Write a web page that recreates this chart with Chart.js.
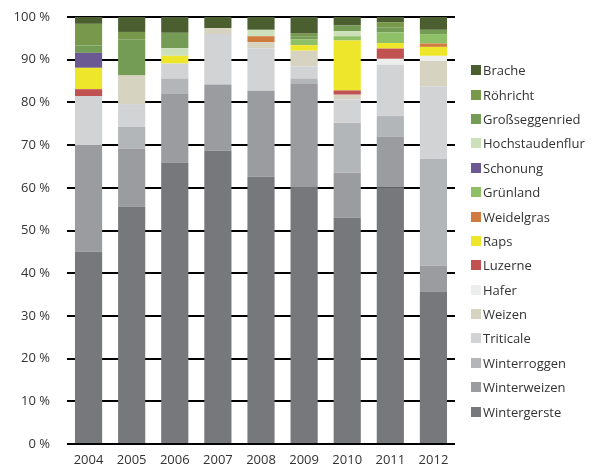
<!DOCTYPE html>
<html>
<head>
<meta charset="utf-8">
<script src="https://cdn.jsdelivr.net/npm/chart.js@4"></script>
<style>
  html, body { margin: 0; padding: 0; background: #fff; }
  #wrap { position: relative; width: 594px; height: 469px; }
  #legend { position: absolute; left: 471px; top: 58px; font-family: "Open Sans", sans-serif; font-size: 13px; color: #333; }
  .item { height: 24.4px; display: flex; align-items: center; white-space: nowrap; }
  .box { width: 10px; height: 10px; margin-right: 2px; flex: none; }
</style>
</head>
<body>
<div id="wrap">
  <canvas id="chart" width="594" height="469"></canvas>
  <div id="legend"></div>
</div>
<script>
// Jahre
const years = ['2004', '2005', '2006', '2007', '2008', '2009', '2010', '2011', '2012'];

// Anteile in %, je Jahr (von unten nach oben gestapelt)
const wintergerste    = [45.0, 55.6, 65.9, 68.7, 62.6, 60.0, 53.0, 60.1, 35.7];
const winterweizen    = [25.0, 13.6, 16.1, 15.5, 20.1, 24.3, 10.5, 11.9, 6.1];
const winterroggen    = [0, 5.1, 3.6, 0, 0, 1.3, 11.7, 4.8, 25.0];
const triticale       = [11.5, 5.3, 3.5, 11.8, 10.0, 2.8, 5.5, 12.0, 17.0];
const weizen          = [0, 6.7, 0, 1.4, 1.4, 3.7, 1.1, 0, 5.9];
const hafer           = [0, 0, 0, 0, 0, 0, 0, 1.4, 1.2];
const luzerne         = [1.6, 0, 0, 0, 0, 0, 1.0, 2.4, 0];
const raps            = [5.0, 0, 1.8, 0, 0, 1.3, 11.7, 1.3, 2.1];
const weidelgras      = [0, 0, 0, 0, 1.4, 0, 0, 0, 0.8];
const gruenland       = [0, 0, 0, 0, 0, 1.4, 1.0, 2.5, 2.2];
const schonung        = [3.5, 0, 0, 0, 0, 0, 0, 0, 0];
const hochstaudenflur = [0, 0, 1.8, 0, 1.5, 0, 1.2, 0, 0];
const grossseggenried = [1.7, 8.5, 3.6, 0, 0, 0.7, 1.3, 1.2, 1.0];
const roehricht       = [5.1, 1.7, 0, 0, 0, 0.6, 0, 1.2, 0];
const brache          = [1.6, 3.5, 3.7, 2.6, 3.0, 3.9, 2.0, 1.2, 3.0];

const yTicks = [0, 10, 20, 30, 40, 50, 60, 70, 80, 90, 100];

const series = [
    { label: 'Wintergerste', data: wintergerste, color: '#77787c' },
    { label: 'Winterweizen', data: winterweizen, color: '#9a9c9f' },
    { label: 'Winterroggen', data: winterroggen, color: '#b3b6b8' },
    { label: 'Triticale', data: triticale, color: '#d2d3d5' },
    { label: 'Weizen', data: weizen, color: '#d6d4c0' },
    { label: 'Hafer', data: hafer, color: '#eceeee' },
    { label: 'Luzerne', data: luzerne, color: '#c05252' },
    { label: 'Raps', data: raps, color: '#eee62a' },
    { label: 'Weidelgras', data: weidelgras, color: '#d07c40' },
    { label: 'Grünland', data: gruenland, color: '#8fbf66' },
    { label: 'Schonung', data: schonung, color: '#6b5994' },
    { label: 'Hochstaudenflur', data: hochstaudenflur, color: '#cde0bc' },
    { label: 'Großseggenried', data: grossseggenried, color: '#759c55' },
    { label: 'Röhricht', data: roehricht, color: '#78984c' },
    { label: 'Brache', data: brache, color: '#4a5e30' }
];

// Legende (oben Brache, unten Wintergerste)
const legend = document.getElementById('legend');
series.slice().reverse().forEach(s => {
    const item = document.createElement('div');
    item.className = 'item';
    item.innerHTML = `<span class="box" style="background:${s.color}"></span><span>${s.label}</span>`;
    legend.appendChild(item);
});

const font = { family: '"Open Sans", sans-serif', size: 13 };

new Chart(document.getElementById('chart'), {
    type: 'bar',
    data: {
        labels: years,
        datasets: series.map(s => ({
            label: s.label,
            data: s.data,
            backgroundColor: s.color,
            borderWidth: 0,
            categoryPercentage: 1,
            barPercentage: 0.63
        }))
    },
    options: {
        responsive: false,
        animation: false,
        layout: { padding: { top: 17, right: 139, left: 0, bottom: 0 } },
        plugins: {
            legend: { display: false },
            tooltip: { enabled: false }
        },
        scales: {
            x: {
                stacked: true,
                grid: { display: false, drawTicks: false },
                border: { display: false },
                ticks: { color: '#333', font: font, padding: 8 },
                afterFit: axis => { axis.height = 25; }
            },
            y: {
                stacked: true,
                min: 0,
                max: 100,
                afterBuildTicks: axis => { axis.ticks = yTicks.map(v => ({ value: v })); },
                // unsichtbare Tick-Striche als Abstand zwischen Beschriftung und Linien
                grid: { color: '#000', lineWidth: 2, drawTicks: true, tickLength: 17, tickColor: 'rgba(0,0,0,0)' },
                border: { display: false },
                ticks: {
                    color: '#333',
                    font: font,
                    padding: 0,
                    callback: v => v + ' %'
                },
                afterFit: axis => { axis.width = 67; }
            }
        }
    }
});
</script>
</body>
</html>
